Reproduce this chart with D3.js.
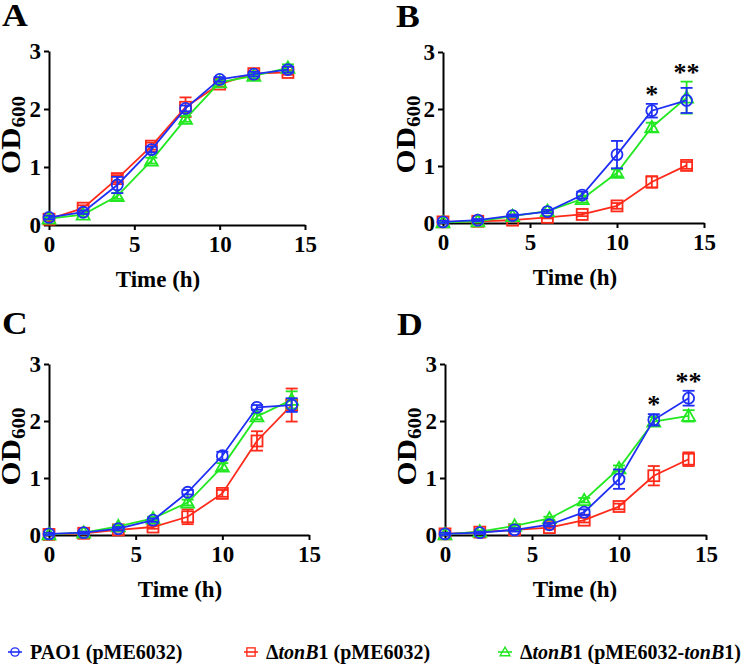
<!DOCTYPE html>
<html>
<head>
<meta charset="utf-8">
<script src="https://cdn.jsdelivr.net/npm/d3@7"></script>
<style>
  body { margin: 0; background: #fff; }
  svg text { font-family: "Liberation Serif", Tinos, "Times New Roman", Times, "DejaVu Serif", serif; font-weight: bold; }
</style>
</head>
<body>
<svg id="chart" width="749" height="664"></svg>
<script>
/** DATA **/
var timeH = [0, 2, 4, 6, 8, 10, 12, 14];
var xTicks = [0, 5, 10, 15];
var yTicks = [0, 1, 2, 3];
var panelLetters = ["A", "B", "C", "D"];

// panel A
var aPao1 = [0.13, 0.22, 0.69, 1.30, 2.01, 2.51, 2.60, 2.68];
var aTonB = [0.10, 0.29, 0.80, 1.36, 2.03, 2.43, 2.61, 2.63];
var aComp = [0.11, 0.18, 0.50, 1.11, 1.83, 2.46, 2.57, 2.71];
var aPao1Err = [0.03, 0.03, 0.14, 0.05, 0.05, 0.04, 0.04, 0.05];
var aTonBErr = [0.03, 0.05, 0.06, 0.06, 0.17, 0.05, 0.04, 0.04];
var aCompErr = [0.02, 0.03, 0.05, 0.05, 0.05, 0.04, 0.04, 0.06];

// panel B
var bPao1 = [0.02, 0.05, 0.13, 0.20, 0.49, 1.20, 1.97, 2.15];
var bTonB = [0.02, 0.03, 0.05, 0.10, 0.15, 0.30, 0.72, 1.01];
var bComp = [0.01, 0.03, 0.12, 0.21, 0.42, 0.88, 1.68, 2.20];
var bPao1Err = [0.02, 0.02, 0.02, 0.03, 0.06, 0.24, 0.12, 0.22];
var bTonBErr = [0.02, 0.02, 0.02, 0.02, 0.03, 0.05, 0.10, 0.06];
var bCompErr = [0.02, 0.02, 0.02, 0.02, 0.06, 0.06, 0.08, 0.28];

// panel C
var cPao1 = [0.02, 0.04, 0.11, 0.26, 0.75, 1.39, 2.24, 2.28];
var cTonB = [0.01, 0.03, 0.09, 0.14, 0.32, 0.73, 1.65, 2.28];
var cComp = [0.01, 0.04, 0.15, 0.29, 0.57, 1.20, 2.08, 2.37];
var cPao1Err = [0.02, 0.02, 0.03, 0.03, 0.04, 0.07, 0.04, 0.12];
var cTonBErr = [0.02, 0.02, 0.03, 0.03, 0.13, 0.06, 0.17, 0.29];
var cCompErr = [0.02, 0.02, 0.03, 0.03, 0.05, 0.06, 0.05, 0.15];

// panel D
var dPao1 = [0.02, 0.04, 0.09, 0.18, 0.40, 0.98, 2.02, 2.40];
var dTonB = [0.02, 0.05, 0.09, 0.13, 0.26, 0.50, 1.04, 1.33];
var dComp = [0.01, 0.06, 0.16, 0.29, 0.61, 1.17, 1.99, 2.09];
var dPao1Err = [0.02, 0.02, 0.03, 0.03, 0.05, 0.17, 0.10, 0.13];
var dTonBErr = [0.02, 0.02, 0.02, 0.03, 0.04, 0.05, 0.17, 0.12];
var dCompErr = [0.02, 0.02, 0.03, 0.03, 0.04, 0.05, 0.08, 0.10];

// significance marks (panels B and D)
var starTimes = [12, 14];
var starLabels = ["*", "**"];

/** STYLE / LAYOUT **/
var fontFam = '"Liberation Serif", Tinos, "Times New Roman", Times, "DejaVu Serif", serif';
var blue = "#1f2ff5", red = "#ff2a1a", green = "#22e822";
var serieStyle = [
  {key: "tonB", color: red, shape: "square"},
  {key: "comp", color: green, shape: "triangle"},
  {key: "pao1", color: blue, shape: "circle"}
];

// pixel frame of each panel (x for 0 and 15, y for 0 and 3)
var frames = [
  {x0: 49, x1: 305, y0: 225, y1: 51, letterX: 2, letterY: 26, titleX: 158, ytX: 20},
  {x0: 443, x1: 704, y0: 223, y1: 52, letterX: 396, letterY: 27, titleX: 575, ytX: 415},
  {x0: 49, x1: 309, y0: 535, y1: 364, letterX: 2, letterY: 334, titleX: 180, ytX: 20},
  {x0: 445, x1: 706, y0: 535, y1: 364, letterX: 397, letterY: 335, titleX: 575, ytX: 416}
];

var panelData = [
  {pao1: aPao1, tonB: aTonB, comp: aComp, pao1Err: aPao1Err, tonBErr: aTonBErr, compErr: aCompErr, stars: false},
  {pao1: bPao1, tonB: bTonB, comp: bComp, pao1Err: bPao1Err, tonBErr: bTonBErr, compErr: bCompErr, stars: true},
  {pao1: cPao1, tonB: cTonB, comp: cComp, pao1Err: cPao1Err, tonBErr: cTonBErr, compErr: cCompErr, stars: false},
  {pao1: dPao1, tonB: dTonB, comp: dComp, pao1Err: dPao1Err, tonBErr: dTonBErr, compErr: dCompErr, stars: true}
];

var svg = d3.select("#chart");

/* draws one open marker centred on 0,0 */
function drawMarker(g, shape, color) {
  if (shape === "circle") {
    g.append("circle").attr("r", 5.5);
  } else if (shape === "square") {
    g.append("rect").attr("x", -5.5).attr("y", -5.5).attr("width", 11).attr("height", 11);
  } else {
    g.append("path").attr("d", "M0,-6.5L6.5,5L-6.5,5Z");
  }
  g.selectAll("circle,rect,path")
    .attr("fill", "none")
    .attr("stroke", color)
    .attr("stroke-width", 1.8);
}

function drawPanel(i) {
  var f = frames[i], pd = panelData[i];
  var x = d3.scaleLinear().domain([0, 15]).range([f.x0, f.x1]);
  var y = d3.scaleLinear().domain([0, 3]).range([f.y0, f.y1]);
  var g = svg.append("g");

  // axes
  var xAxis = g.append("g")
    .attr("transform", "translate(0," + f.y0 + ")")
    .call(d3.axisBottom(x).tickValues(xTicks).tickFormat(d3.format("d"))
      .tickSize(5).tickSizeOuter(0).tickPadding(5));
  var yAxis = g.append("g")
    .attr("transform", "translate(" + f.x0 + ",0)")
    .call(d3.axisLeft(y).tickValues(yTicks).tickFormat(d3.format("d"))
      .tickSize(5).tickSizeOuter(0).tickPadding(3));
  [xAxis, yAxis].forEach(function(a) {
    a.attr("font-family", null).attr("font-size", null);
    a.select(".domain").attr("stroke", "#000").attr("stroke-width", 2);
    a.selectAll(".tick line").attr("stroke", "#000").attr("stroke-width", 2);
    a.selectAll(".tick text")
      .attr("fill", "#000")
      .style("font-family", fontFam)
      .style("font-weight", "bold")
      .style("font-size", "23px");
  });
  xAxis.selectAll(".tick text").attr("dy", "0.76em");
  yAxis.selectAll(".tick text").attr("dy", "0.34em");

  // axis titles
  g.append("text")
    .attr("x", f.titleX)
    .attr("y", f.y0 + 62)
    .attr("text-anchor", "middle")
    .style("font-size", "23px")
    .text("Time (h)");

  var yt = g.append("text")
    .attr("transform", "translate(" + f.ytX + "," + ((f.y0 + f.y1) / 2 - 3) + ") rotate(-90) scale(1,0.85)")
    .attr("text-anchor", "middle")
    .style("font-size", "31px");
  yt.append("tspan").text("OD");
  yt.append("tspan").attr("dy", "0.3em").style("font-size", "21px").text("600");

  // panel letter
  g.append("text")
    .attr("x", f.letterX)
    .attr("y", f.letterY)
    .attr("transform", "translate(" + f.letterX + ",0) scale(1.15,1) translate(" + (-f.letterX) + ",0)")
    .style("font-size", "31px")
    .text(panelLetters[i]);

  // series
  serieStyle.forEach(function(s) {
    var vals = pd[s.key], errs = pd[s.key + "Err"];
    var pts = timeH.map(function(t, j) { return {t: t, v: vals[j], e: errs[j]}; });

    var line = d3.line()
      .x(function(d) { return x(d.t); })
      .y(function(d) { return y(d.v); });
    g.append("path")
      .datum(pts)
      .attr("d", line)
      .attr("fill", "none")
      .attr("stroke", s.color)
      .attr("stroke-width", 1.8);

    // error bars
    var eb = g.selectAll(".eb_" + s.key)
      .data(pts)
      .enter()
      .append("g")
      .attr("stroke", s.color)
      .attr("stroke-width", 1.8);
    eb.append("line")
      .attr("x1", function(d) { return x(d.t); })
      .attr("x2", function(d) { return x(d.t); })
      .attr("y1", function(d) { return y(d.v + d.e); })
      .attr("y2", function(d) { return y(Math.max(0, d.v - d.e)); });
    eb.append("line")
      .attr("x1", function(d) { return x(d.t) - 6; })
      .attr("x2", function(d) { return x(d.t) + 6; })
      .attr("y1", function(d) { return y(d.v + d.e); })
      .attr("y2", function(d) { return y(d.v + d.e); });
    eb.append("line")
      .attr("x1", function(d) { return x(d.t) - 6; })
      .attr("x2", function(d) { return x(d.t) + 6; })
      .attr("y1", function(d) { return y(Math.max(0, d.v - d.e)); })
      .attr("y2", function(d) { return y(Math.max(0, d.v - d.e)); });

    // markers
    g.selectAll(".mk_" + s.key)
      .data(pts)
      .enter()
      .append("g")
      .attr("transform", function(d) { return "translate(" + x(d.t) + "," + y(d.v) + ")"; })
      .each(function() { drawMarker(d3.select(this), s.shape, s.color); });
  });

  // significance stars above the highest error bar
  if (pd.stars) {
    starTimes.forEach(function(t, k) {
      var j = timeH.indexOf(t);
      var top = d3.max(["pao1", "tonB", "comp"], function(key) { return pd[key][j] + pd[key + "Err"][j]; });
      g.append("text")
        .attr("x", x(t))
        .attr("y", y(top) - 1)
        .attr("text-anchor", "middle")
        .style("font-size", "26px")
        .text(starLabels[k]);
    });
  }
}

for (var i = 0; i < 4; i++) drawPanel(i);

/** LEGEND **/
var legendY = 652;
var legendItems = [
  {color: blue, shape: "circle", x: 15, parts: [["PAO1 (pME6032)", false]]},
  {color: red, shape: "square", x: 251, parts: [["\u0394", false], ["tonB", true], ["1 (pME6032)", false]]},
  {color: green, shape: "triangle", x: 505, parts: [["\u0394", false], ["tonB", true], ["1 (pME6032-", false], ["tonB", true], ["1)", false]]}
];

legendItems.forEach(function(it) {
  var lg = svg.append("g");
  lg.append("line")
    .attr("x1", it.x - 7).attr("x2", it.x + 7)
    .attr("y1", legendY).attr("y2", legendY)
    .attr("stroke", it.color).attr("stroke-width", 1.6);
  var mk = lg.append("g").attr("transform", "translate(" + it.x + "," + legendY + ") scale(0.75)");
  drawMarker(mk, it.shape, it.color);
  var t = lg.append("text")
    .attr("x", it.x + 15)
    .attr("y", legendY + 7)
    .style("font-size", "20px");
  it.parts.forEach(function(p) {
    t.append("tspan").style("font-style", p[1] ? "italic" : "normal").text(p[0]);
  });
});
</script>
</body>
</html>
